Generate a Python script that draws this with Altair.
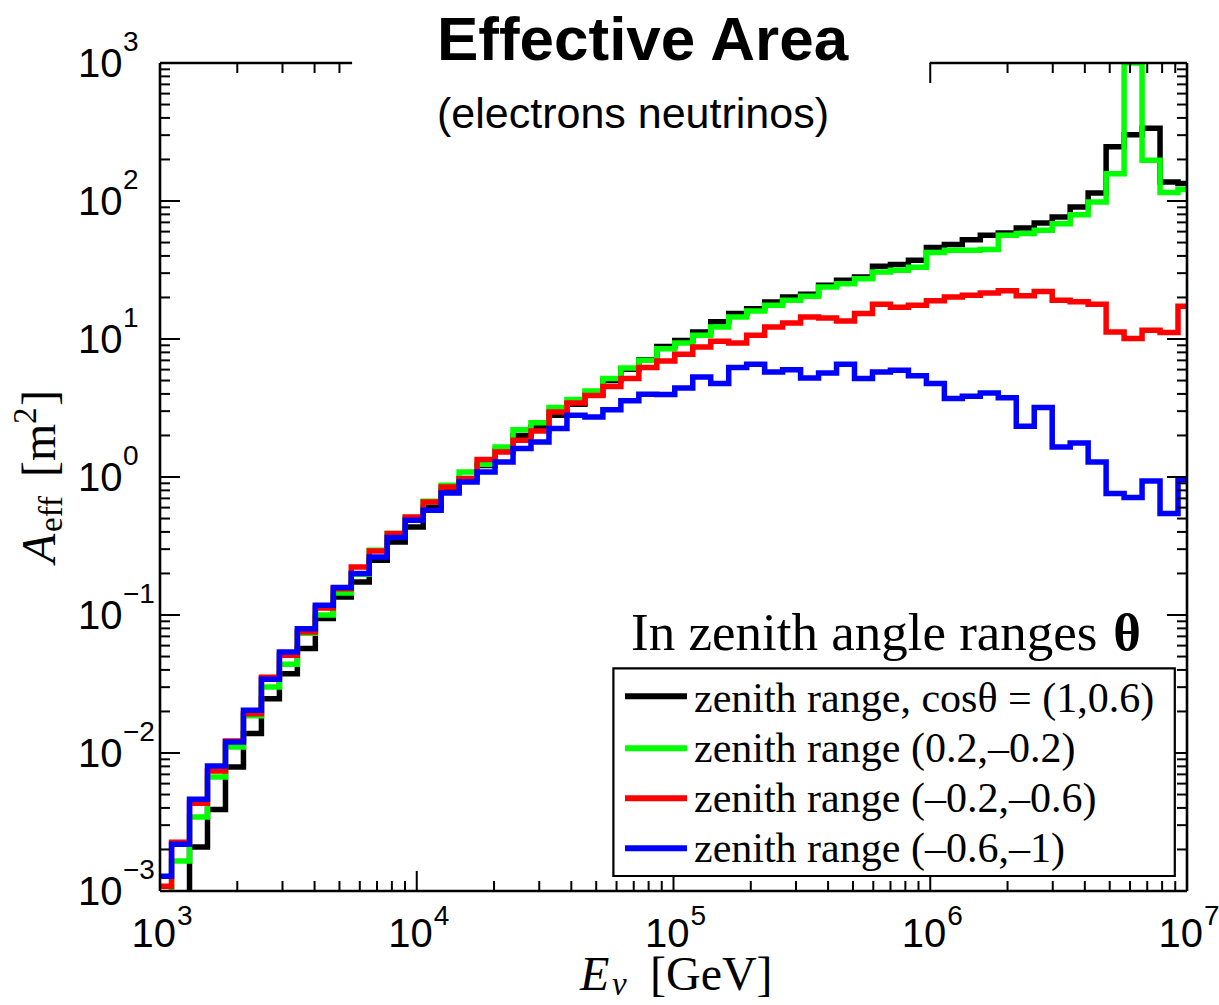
import altair as alt
import pandas as pd

# ---------------- data ----------------
# histogram bins in log10(E/GeV): first partial bin starts at 3.0, then width 0.07
bin_left_log10 = [3.0] + [round(3.045 + 0.07 * k, 3) for k in range(57)]
x_end_log10 = 7.0

series_names = [
    "zenith range, cos\u03b8 = (1,0.6)",
    "zenith range (0.2,\u20130.2)",
    "zenith range (\u20130.2,\u20130.6)",
    "zenith range (\u20130.6,\u20131)",
]
series_colors = ["#000000", "#00ff00", "#ff0000", "#0000ff"]

# log10 of A_eff [m^2] per bin
black_log10 = [-3.3, -3.3, -2.681, -2.410, -2.101, -1.859, -1.606, -1.425, -1.243, -1.025,
               -0.870, -0.761, -0.604, -0.471, -0.362, -0.220, -0.100, -0.010, 0.083, 0.190,
               0.300, 0.360, 0.447, 0.527, 0.600, 0.700, 0.780, 0.850, 0.945, 0.990,
               1.051, 1.125, 1.184, 1.220, 1.268, 1.304, 1.325, 1.390, 1.425, 1.450,
               1.527, 1.540, 1.570, 1.663, 1.684, 1.720, 1.751, 1.768, 1.804, 1.841,
               1.884, 1.957, 2.058, 2.393, 2.480, 2.527, 2.138, 2.126]
green_log10 = [-3.3, -2.783, -2.464, -2.174, -1.957, -1.730, -1.522, -1.357, -1.133, -1.000,
               -0.840, -0.705, -0.530, -0.410, -0.300, -0.176, -0.060, 0.036, 0.092, 0.217,
               0.343, 0.394, 0.503, 0.561, 0.624, 0.713, 0.790, 0.846, 0.930, 0.971,
               1.027, 1.087, 1.159, 1.202, 1.244, 1.280, 1.309, 1.377, 1.401, 1.437,
               1.486, 1.498, 1.520, 1.626, 1.643, 1.643, 1.648, 1.751, 1.764, 1.788,
               1.836, 1.901, 1.993, 2.198, 3.0, 2.295, 2.061, 2.083]
red_log10 = [-2.966, -2.647, -2.365, -2.130, -1.913, -1.715, -1.451, -1.292, -1.123, -0.950,
             -0.810, -0.652, -0.536, -0.410, -0.290, -0.181, -0.072, -0.012, 0.126, 0.181,
             0.266, 0.333, 0.471, 0.536, 0.590, 0.655, 0.713, 0.793, 0.841, 0.889,
             0.942, 0.983, 0.971, 1.027, 1.087, 1.116, 1.159, 1.152, 1.130, 1.184,
             1.251, 1.230, 1.244, 1.278, 1.304, 1.317, 1.333, 1.350, 1.313, 1.345,
             1.280, 1.270, 1.251, 1.051, 1.003, 1.063, 1.047, 1.238]
blue_log10 = [-2.893, -2.662, -2.336, -2.094, -1.920, -1.691, -1.466, -1.268, -1.099, -0.930,
              -0.800, -0.700, -0.580, -0.439, -0.314, -0.241, -0.116, -0.036, 0.036, 0.109,
              0.206, 0.254, 0.351, 0.447, 0.435, 0.488, 0.553, 0.600, 0.597, 0.645,
              0.725, 0.677, 0.793, 0.817, 0.761, 0.778, 0.717, 0.754, 0.817, 0.713,
              0.761, 0.773, 0.733, 0.677, 0.568, 0.585, 0.609, 0.575, 0.368, 0.503,
              0.217, 0.246, 0.109, -0.120, -0.149, -0.029, -0.265, -0.020]
series_log10 = [black_log10, green_log10, red_log10, blue_log10]

x_tick_major = [1e3, 1e4, 1e5, 1e6, 1e7]
x_tick_exp = ["3", "4", "5", "6", "7"]
y_tick_major = [1e-3, 1e-2, 1e-1, 1e0, 1e1, 1e2, 1e3]
y_tick_exp = ["\u22123", "\u22122", "\u22121", "0", "1", "2", "3"]
x_tick_minor = [m * 10.0 ** k for k in range(3, 7) for m in range(2, 10)]
y_tick_minor = [m * 10.0 ** k for k in range(-3, 3) for m in range(2, 10)]
top_frame_segments = [(1e3, 5.6e3), (9.95e5, 1e7)]

# ---------------- layout ----------------
W, H = 1027, 828
SANS = "Liberation Sans"
SERIF = "Liberation Serif"
xsc = alt.Scale(type="log", domain=[1e3, 1e7], nice=False)
ysc = alt.Scale(type="log", domain=[1e-3, 1e3], nice=False)
one = pd.DataFrame({"d": [0]})

layers = []

# histogram step lines (black, green, red, blue drawn in this order)
for name, col, vals in zip(series_names, series_colors, series_log10):
    xs = [10 ** e for e in bin_left_log10] + [10 ** x_end_log10]
    ys = [10 ** v for v in vals] + [10 ** vals[-1]]
    df = pd.DataFrame({"E": xs, "A": ys, "i": list(range(len(xs)))})
    layers.append(
        alt.Chart(df).mark_line(interpolate="step-after", strokeWidth=5.5, color=col, clip=True)
        .encode(x=alt.X("E:Q", scale=xsc, axis=None),
                y=alt.Y("A:Q", scale=ysc, axis=None),
                order="i:Q")
    )

# frame
FW = 2.6
layers.append(alt.Chart(one).mark_rule(color="black", strokeWidth=FW)
              .encode(x=alt.value(0), y=alt.value(0), y2=alt.value(H)))
layers.append(alt.Chart(one).mark_rule(color="black", strokeWidth=FW)
              .encode(x=alt.value(W), y=alt.value(0), y2=alt.value(H)))
layers.append(alt.Chart(one).mark_rule(color="black", strokeWidth=FW)
              .encode(y=alt.value(H), x=alt.value(0), x2=alt.value(W)))
topdf = pd.DataFrame({"x0": [s[0] for s in top_frame_segments], "x1": [s[1] for s in top_frame_segments]})
layers.append(alt.Chart(topdf).mark_rule(color="black", strokeWidth=FW)
              .encode(x=alt.X("x0:Q", scale=xsc, axis=None), x2="x1:Q", y=alt.value(0)))


def yticks(vals, x0, x1):
    return alt.Chart(pd.DataFrame({"v": vals})).mark_rule(color="black", strokeWidth=2).encode(
        y=alt.Y("v:Q", scale=ysc, axis=None), x=alt.value(x0), x2=alt.value(x1))


def xticks(vals, y0, y1):
    return alt.Chart(pd.DataFrame({"v": vals})).mark_rule(color="black", strokeWidth=2).encode(
        x=alt.X("v:Q", scale=xsc, axis=None), y=alt.value(y0), y2=alt.value(y1))


layers += [
    yticks(y_tick_major, 0, 20), yticks(y_tick_minor, 0, 10),
    yticks(y_tick_major, W, W - 20), yticks(y_tick_minor, W, W - 10),
    xticks(x_tick_major, H, H - 20), xticks(x_tick_minor, H, H - 10),
]
top_major = [v for v in x_tick_major if v <= 5.6e3 or v >= 9.9e5]
top_minor = [v for v in x_tick_minor if v <= 5.6e3 or v >= 9.9e5]
layers += [xticks(top_major, 0, 20), xticks(top_minor, 0, 10)]

# tick labels  10^n
ylab = pd.DataFrame({"v": y_tick_major, "e": y_tick_exp, "b": ["10"] * len(y_tick_major)})
layers.append(alt.Chart(ylab).mark_text(align="left", baseline="alphabetic", font=SANS, fontSize=40, dy=14)
              .encode(y=alt.Y("v:Q", scale=ysc, axis=None), x=alt.value(-82), text="b:N"))
layers.append(alt.Chart(ylab).mark_text(align="left", baseline="alphabetic", font=SANS, fontSize=28, dy=-12)
              .encode(y=alt.Y("v:Q", scale=ysc, axis=None), x=alt.value(-37), text="e:N"))
xlab = pd.DataFrame({"v": x_tick_major, "e": x_tick_exp, "b": ["10"] * len(x_tick_major)})
layers.append(alt.Chart(xlab).mark_text(align="right", baseline="alphabetic", font=SANS, fontSize=40, dx=16)
              .encode(x=alt.X("v:Q", scale=xsc, axis=None), y=alt.value(H + 56), text="b:N"))
layers.append(alt.Chart(xlab).mark_text(align="left", baseline="alphabetic", font=SANS, fontSize=28, dx=17)
              .encode(x=alt.X("v:Q", scale=xsc, axis=None), y=alt.value(H + 34), text="e:N"))


def txt(text, x, y, size, font, weight="normal", style="normal", align="left", angle=0, color="black"):
    return alt.Chart(pd.DataFrame({"t": [text]})).mark_text(
        align=align, baseline="alphabetic", font=font, fontSize=size,
        fontWeight=weight, fontStyle=style, angle=angle, color=color,
    ).encode(x=alt.value(x), y=alt.value(y), text="t:N")


# axis titles
layers += [
    txt("E", 420, 927, 48, SERIF, style="italic"),
    txt("\u03bd", 452, 932, 33, SERIF, style="italic"),
    txt("[GeV]", 490, 927, 48, SERIF),
    txt("A", -105, 500, 48, SERIF, style="italic", angle=270),
    txt("eff", -98, 469, 33, SERIF, angle=270),
    txt("[m", -105, 414, 48, SERIF, angle=270),
    txt("2", -124, 361, 33, SERIF, angle=270),
    txt("]", -105, 343, 48, SERIF, angle=270),
]

# chart title
layers += [
    txt("Effective Area", 482.5, -3, 62, SANS, weight="bold", align="center"),
    txt("(electrons neutrinos)", 473, 65, 43, SANS, align="center"),
]

# legend
layers.append(alt.Chart(one).mark_rect(fill="white", stroke="black", strokeWidth=2.2)
              .encode(x=alt.value(453.4), x2=alt.value(1014.8), y=alt.value(605.3), y2=alt.value(813)))
layers += [
    txt("In zenith angle ranges", 471, 587, 53, SERIF),
    txt("\u03b8", 981, 587, 53, SERIF, weight="bold", align="right"),
]
leg_line_y = [633.3, 685.3, 735.3, 785.3]
leg_text_y = [648.7, 698.7, 748.7, 798.7]
for name, col, ly, ty in zip(series_names, series_colors, leg_line_y, leg_text_y):
    layers.append(alt.Chart(one).mark_rule(color=col, strokeWidth=6)
                  .encode(x=alt.value(465), x2=alt.value(527), y=alt.value(ly)))
    layers.append(txt(name, 534, ty, 42, SERIF))

chart = alt.layer(*layers).properties(
    width=W, height=H,
    padding={"left": 160, "top": 63, "right": 32, "bottom": 114},
    autosize=alt.AutoSizeParams(type="none"),
    background="white",
).configure_view(stroke=None)

chart.save("out.html", embed_options={"renderer": "svg", "actions": False})
